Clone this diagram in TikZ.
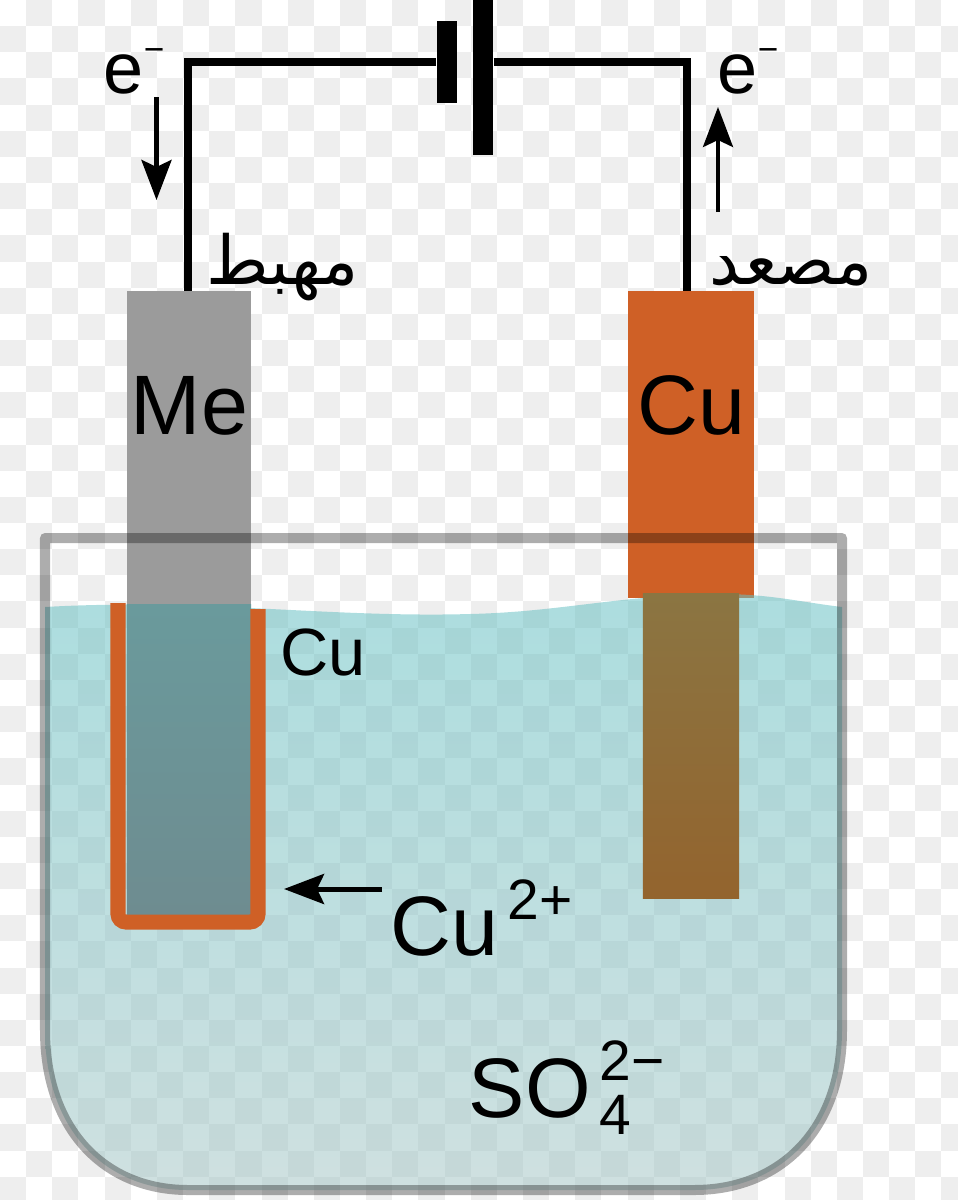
\documentclass[tikz,border=0pt]{standalone}
\usepackage{fontspec}
\setmainfont{Liberation Sans}
\newfontfamily\arabicfont[Script=Arabic]{DejaVu Sans}
\TeXXeTstate=1
\usetikzlibrary{arrows.meta}
\newcommand{\supfont}{\fontsize{16.2}{19}\selectfont}
\newcommand{\minusfont}{\fontsize{10}{12}\selectfont}
\definecolor{cellgray}{HTML}{EEEEEE}
\definecolor{copper}{HTML}{CF6026}
\definecolor{metal}{HTML}{9B9B9B}
\definecolor{watertop}{HTML}{68C1C4}
\definecolor{waterlow}{HTML}{A7C7C7}
\definecolor{metaltop}{HTML}{6A9A9C}
\definecolor{metallow}{HTML}{6E8C90}
\definecolor{rodtop}{HTML}{8B7542}
\definecolor{rodlow}{HTML}{93642E}
\tikzset{
  plate/.style={rectangle, inner sep=0pt, fill=black},
  rod/.style={rectangle, inner sep=0pt},
  wire/.style={draw=black, line width=.085cm, line join=miter},
  flow/.style={-{Stealth[length=.4cm, width=.3cm, inset=.07cm]}, line width=.035cm},
  bigtxt/.style={inner sep=0pt, anchor=base, font=\fontsize{24}{28}\selectfont},
  eltxt/.style={inner sep=0pt, anchor=base west, font=\fontsize{20.5}{25}\selectfont},
  artxt/.style={inner sep=0pt, anchor=base west, font=\arabicfont\fontsize{19.2}{23}\selectfont}
}
\begin{document}
\begin{tikzpicture}[x=0.01cm, y=-0.01cm]
    \useasboundingbox (0,0) rectangle (957,1200);

    % Fondo
    \foreach \i in {0,...,36} {
      \foreach \j in {0,...,45} {
        \pgfmathtruncatemacro{\k}{\i+\j}
        \ifodd\k
          \fill[cellgray] ({\i*26.15},{\j*26.15}) rectangle +(26.15,26.15);
        \fi
      }
    }

    % Electrodos
    \node[rod, fill=metal, minimum width=1.24cm, minimum height=3.15cm] (meplate) at (189,448.5) {};
    \node[rod, fill=copper, minimum width=1.26cm, minimum height=3.07cm] (cuplate) at (691,444.5) {};

    % Disolucion
    \shade[top color=watertop, bottom color=waterlow, fill opacity=.55]
      (45,607) .. controls (200,598) and (330,618) .. (470,614)
      .. controls (560,612) and (620,595) .. (720,594)
      .. controls (770,594) and (800,602) .. (842,607)
      -- (842,1030) .. controls (842,1130) and (780,1190) .. (694,1190)
      -- (188,1190) .. controls (105,1190) and (45,1130) .. (45,1030) -- cycle;

    \node[rod, top color=metaltop, bottom color=metallow,
      minimum width=1.24cm, minimum height=3.10cm] (melow) at (189,760) {};
    \node[rod, top color=rodtop, bottom color=rodlow,
      minimum width=.96cm, minimum height=3.05cm] (culow) at (691,746) {};

    % Capa de cobre
    \coordinate (rimA) at (118,603);
    \coordinate (rimB) at (118,922);
    \coordinate (rimC) at (258,922);
    \coordinate (rimD) at (258,609);
    \draw[copper, line width=.15cm, rounded corners=.08cm] (rimA) -- (rimB) -- (rimC) -- (rimD);

    % Cuba
    \draw[black, draw opacity=.32, line width=.10cm, line join=round]
      (45,538) -- (842,538) -- (842,1030) .. controls (842,1130) and (780,1190) .. (694,1190)
      -- (188,1190) .. controls (105,1190) and (45,1130) .. (45,1030) -- cycle;

    % Pila
    \node[plate, minimum width=.20cm, minimum height=.82cm] (shortplate) at (447,62) {};
    \node[plate, minimum width=.20cm, minimum height=1.55cm] (longplate) at (483,77.5) {};
    \coordinate (cornerL) at (188,62);
    \coordinate (cornerR) at (687,62);
    \coordinate (wireL) at (188,291);
    \coordinate (wireR) at (687,291);
    \draw[wire] (wireL) -- (cornerL) -- (shortplate.west);
    \draw[wire] (longplate.east |- cornerR) -- (cornerR) -- (wireR);

    % Electrones
    \node[eltxt] (eleft) at (103,93) {e\raisebox{9pt}{\minusfont −}};
    \node[eltxt] (eright) at (717,93) {e\raisebox{9pt}{\minusfont −}};
    \coordinate (downA) at (156.5,97);
    \coordinate (downB) at (156.5,200);
    \coordinate (upA) at (718,212);
    \coordinate (upB) at (718,107);
    \draw[flow, line width=.045cm] (downA) -- (downB);
    \draw[flow] (upA) -- (upB);

    % Textos
    \node[artxt] (cathode) at (206,284) {\beginR مهبط\endR};
    \node[artxt] (anode) at (709,284) {\beginR مصعد\endR};
    \node[bigtxt] (melabel) at (189.5,434) {Me};
    \node[bigtxt] (culabel) at (691.5,434) {Cu};
    \node[inner sep=0pt, anchor=base, font=\fontsize{19}{22}\selectfont] (culayer) at (323,675) {Cu};
    \node[bigtxt, anchor=base west] (cuion) at (390,955) {Cu\kern2.5pt\raisebox{10pt}{\supfont 2+}};
    \node[bigtxt, anchor=base west] (soion) at (468,1117)
      {SO\kern2.5pt\rlap{\raisebox{-5pt}{\supfont 4}}\raisebox{10.5pt}{\supfont 2−}};
    \coordinate (ionA) at (382,889);
    \coordinate (ionB) at (284,889);
    \draw[flow, line width=.05cm] (ionA) -- (ionB);
\end{tikzpicture}
\end{document}
